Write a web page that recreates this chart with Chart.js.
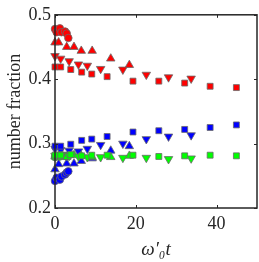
<!DOCTYPE html>
<html>
<head>
<meta charset="utf-8">
<script src="https://cdn.jsdelivr.net/npm/chart.js@4"></script>
<style>
  html, body { margin: 0; padding: 0; background: #fff; }
  #wrap { width: 259px; height: 262px; }
</style>
</head>
<body>
<div id="wrap"><canvas id="myChart"></canvas></div>
<script>
// times for each marker shape
var circleT = [0, 0.4, 1.2, 1.6, 2.5, 2.9, 3.3];
var upT = [0, 0.9, 2.9, 4.7, 6.5, 9.2, 13.8, 18.4];
var downT = [0, 1.4, 3.5, 5.8, 8.0, 11.3, 16.8, 22.6, 28.1, 33.7];
var squareT = [0, 1.4, 3.9, 6.6, 9.1, 12.9, 19.3, 25.7, 32.1, 38.4, 44.9];

// red
var redCircle = [0.478, 0.473, 0.479, 0.473, 0.474, 0.471, 0.464];
var redUp = [0.457, 0.457, 0.450, 0.450, 0.444, 0.444, 0.432, 0.422];
var redDown = [0.436, 0.432, 0.428, 0.423, 0.421, 0.416, 0.415, 0.407, 0.403, 0.401];
var redSquare = [0.419, 0.419, 0.415, 0.411, 0.408, 0.404, 0.397, 0.397, 0.394, 0.389, 0.387];

// blue
var blueCircle = [0.242, 0.247, 0.244, 0.249, 0.252, 0.255, 0.257];
var blueUp = [0.260, 0.268, 0.269, 0.269, 0.273, 0.277, 0.289, 0.296];
var blueDown = [0.292, 0.290, 0.289, 0.288, 0.292, 0.298, 0.300, 0.307, 0.311, 0.313];
var blueSquare = [0.296, 0.296, 0.299, 0.305, 0.307, 0.311, 0.318, 0.320, 0.322, 0.325, 0.329];

// green
var greenCircle = [0.279, 0.281, 0.280, 0.282, 0.281, 0.280, 0.281];
var greenUp = [0.280, 0.281, 0.279, 0.282, 0.281, 0.279, 0.279, 0.281];
var greenDown = [0.281, 0.282, 0.281, 0.280, 0.279, 0.279, 0.278, 0.278, 0.276, 0.277];
var greenSquare = [0.282, 0.282, 0.283, 0.281, 0.282, 0.282, 0.282, 0.280, 0.281, 0.282, 0.281];

var xTicks = [0, 20, 40];
var yTicks = [0.2, 0.3, 0.4, 0.5];

function pts(xs, ys) {
    return xs.map(function (x, i) { return { x: x, y: ys[i] }; });
}

function makeSet(xs, ys, color, shape) {
    var s = {
        data: pts(xs, ys),
        backgroundColor: color,
        borderColor: '#6a6a6a',
        borderWidth: 0.8,
        pointStyle: shape == 'down' ? 'triangle' : shape,
        rotation: shape == 'down' ? 180 : 0,
        pointRadius: shape == 'circle' ? 3.8 : (shape == 'rect' ? 4.2 : 4.9),
        clip: false
    };
    return s;
}

var datasets = [
    makeSet(squareT, greenSquare, '#00ff00', 'rect'),
    makeSet(downT, greenDown, '#00ff00', 'down'),
    makeSet(upT, greenUp, '#00ff00', 'triangle'),
    makeSet(circleT, greenCircle, '#00ff00', 'circle'),
    makeSet(squareT, blueSquare, '#0000ff', 'rect'),
    makeSet(downT, blueDown, '#0000ff', 'down'),
    makeSet(upT, blueUp, '#0000ff', 'triangle'),
    makeSet(circleT, blueCircle, '#0000ff', 'circle'),
    makeSet(squareT, redSquare, '#ff0000', 'rect'),
    makeSet(downT, redDown, '#ff0000', 'down'),
    makeSet(upT, redUp, '#ff0000', 'triangle'),
    makeSet(circleT, redCircle, '#ff0000', 'circle')
];

// box around the plot with inward ticks on all four sides
var boxPlugin = {
    id: 'box',
    afterDatasetsDraw: function (chart) {
        var ctx = chart.ctx, a = chart.chartArea;
        var xs = chart.scales.x, ys = chart.scales.y;
        ctx.save();
        ctx.strokeStyle = '#262626';
        ctx.lineWidth = 1.5;
        ctx.strokeRect(a.left, a.top, a.right - a.left, a.bottom - a.top);
        ctx.lineWidth = 1;
        var L = 3;
        xTicks.forEach(function (v) {
            var p = Math.round(xs.getPixelForValue(v)) + 0.5;
            ctx.beginPath();
            ctx.moveTo(p, a.bottom); ctx.lineTo(p, a.bottom - L);
            ctx.moveTo(p, a.top); ctx.lineTo(p, a.top + L);
            ctx.stroke();
        });
        yTicks.forEach(function (v) {
            var p = Math.round(ys.getPixelForValue(v)) + 0.5;
            ctx.beginPath();
            ctx.moveTo(a.left, p); ctx.lineTo(a.left + L, p);
            ctx.moveTo(a.right, p); ctx.lineTo(a.right - L, p);
            ctx.stroke();
        });
        ctx.restore();
    }
};

var serif = '"Liberation Serif", "DejaVu Serif", serif';

new Chart(document.getElementById('myChart'), {
    type: 'scatter',
    data: { datasets: datasets },
    plugins: [boxPlugin],
    options: {
        responsive: true,
        maintainAspectRatio: false,
        animation: false,
        layout: { autoPadding: false, padding: { top: 7, right: 2, left: 0, bottom: 0 } },
        plugins: { legend: { display: false }, tooltip: { enabled: false } },
        scales: {
            x: {
                type: 'linear',
                min: 0, max: 50,
                afterBuildTicks: function (s) { s.ticks = xTicks.map(function (v) { return { value: v }; }); },
                afterFit: function (s) { s.height = 54; },
                grid: { display: false, drawTicks: false },
                border: { display: false },
                ticks: { color: '#262626', font: { family: serif, size: 18 }, padding: 5, maxRotation: 0 },
                title: {
                    display: true, text: 'ω′₀t', color: '#262626',
                    font: { family: serif, size: 19, style: 'italic' }, padding: { top: 0, bottom: 1 }
                }
            },
            y: {
                type: 'linear',
                min: 0.2, max: 0.5,
                afterBuildTicks: function (s) { s.ticks = yTicks.map(function (v) { return { value: v }; }); },
                afterFit: function (s) { s.width = 55; },
                grid: { display: false, drawTicks: false },
                border: { display: false },
                ticks: {
                    color: '#262626', font: { family: serif, size: 18 }, padding: 4,
                    callback: function (v) { return v.toFixed(1); }
                },
                title: {
                    display: true, text: 'number fraction', color: '#262626',
                    font: { family: serif, size: 18 }, padding: { top: 4, bottom: 0 }
                }
            }
        }
    }
});
</script>
</body>
</html>
